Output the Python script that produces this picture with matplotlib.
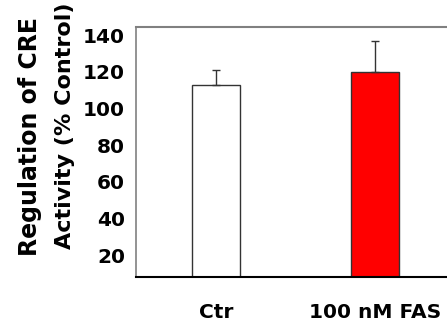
import matplotlib
matplotlib.use("Agg")
import matplotlib.pyplot as plt

categories = ["Ctr", "100 nM FAS"]
values = [113, 120]
errors = [8, 17]
colors = ["white", "#ff0000"]
yticks = [20, 40, 60, 80, 100, 120, 140]

W, H = 447, 327
fig = plt.figure(figsize=(W / 100, H / 100), dpi=100)
ax = fig.add_axes([136 / W, 50 / H, (W - 136) / W, 250 / H])

x = [0, 1]
ax.bar(x, values, width=0.30, color=colors, edgecolor="#333333", linewidth=1.0, zorder=2)
ax.errorbar(x, values, yerr=[[0, 0], errors], fmt="none", ecolor="#333333",
            elinewidth=1.0, capsize=3, capthick=1.0, zorder=3)

ax.set_xlim(-0.5, 1.45)
ax.set_ylim(8, 144.4)
ax.set_yticks(yticks)
ax.set_yticklabels([str(v) for v in yticks], fontsize=14.5, fontweight="bold")
ax.set_xticks(x)
ax.set_xticklabels(categories, fontsize=14.5, fontweight="bold")
ax.tick_params(axis="y", length=0, pad=8)
ax.tick_params(axis="x", length=0, pad=19)

ax.spines["right"].set_visible(False)
ax.spines["top"].set_color("#808080")
ax.spines["top"].set_linewidth(1.5)
ax.spines["left"].set_color("#808080")
ax.spines["left"].set_linewidth(1.2)
ax.spines["bottom"].set_color("black")
ax.spines["bottom"].set_linewidth(1.5)

fig.text(30 / W, 1 - 137 / H, "Regulation of CRE", rotation=90, ha="center", va="center",
         fontsize=17, fontweight="bold")
fig.text(65 / W, 1 - 126 / H, "Activity (% Control)", rotation=90, ha="center", va="center",
         fontsize=16, fontweight="bold")

fig.savefig("out.png", dpi=100)
